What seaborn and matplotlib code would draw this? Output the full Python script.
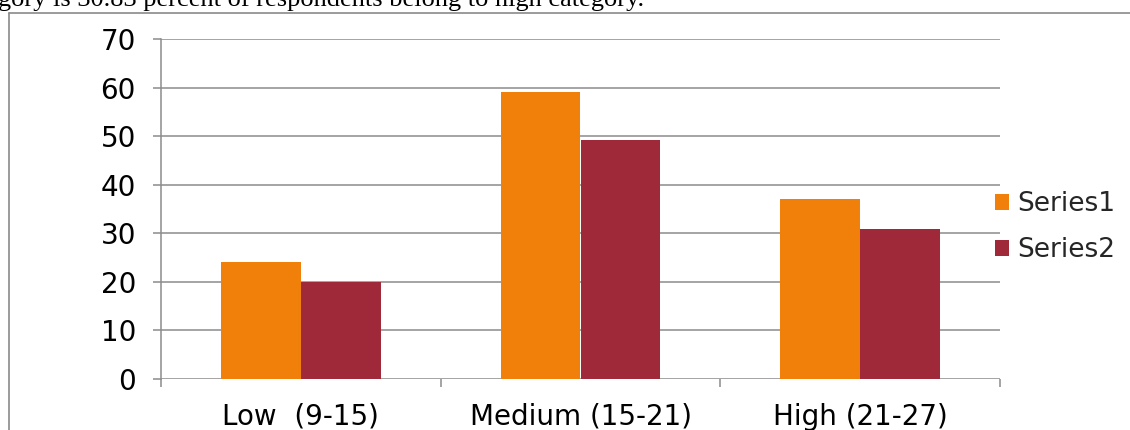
import matplotlib
matplotlib.use("Agg")
import matplotlib.pyplot as plt
from matplotlib.lines import Line2D
from matplotlib.patches import Patch
import seaborn as sns
import pandas as pd

# Respondent counts and their percentage share per score band
categories = ["Low  (9-15)", "Medium (15-21)", "High (21-27)"]
series1 = [24, 59, 37]
series2 = [20, 49.17, 30.83]
series_names = ["Series1", "Series2"]
yticks = [0, 10, 20, 30, 40, 50, 60, 70]
caption = "gory is 30.83 percent of respondents belong to high category."

colors = ["#F0800A", "#A02939"]
grid_color = "#8C8C8C"

df = pd.DataFrame({
    "category": categories * 2,
    "value": series1 + series2,
    "series": [series_names[0]] * 3 + [series_names[1]] * 3,
})

sns.set_theme(style="white")
plt.rcParams["font.family"] = ["DejaVu Sans"]

W, H, DPI = 1130, 430, 100
fig = plt.figure(figsize=(W / DPI, H / DPI), dpi=DPI)
ax = fig.add_axes([161 / W, 1 - 379 / H, (1000 - 161) / W, (379 - 39) / H])

sns.barplot(data=df, x="category", y="value", hue="series", order=categories,
            hue_order=series_names, palette=colors, width=4 / 7, saturation=1,
            linewidth=0, ax=ax, legend=False)

ax.set_xlim(-0.5, len(categories) - 0.5)
ax.set_ylim(0, 70)
ax.set_yticks(yticks)
ax.set_yticklabels([str(t) for t in yticks])
ax.set_xlabel("")
ax.set_ylabel("")

# horizontal gridlines behind the bars
ax.set_axisbelow(True)
ax.yaxis.grid(True, color=grid_color, linewidth=1.1)
ax.xaxis.grid(False)

for side in ["top", "right", "bottom"]:
    ax.spines[side].set_visible(False)
ax.spines["left"].set_color(grid_color)
ax.spines["left"].set_linewidth(1.1)
ax.spines["left"].set_bounds(0, 70)

ax.tick_params(axis="y", which="major", direction="out", length=6, width=1.1,
               color=grid_color, labelsize=20, labelcolor="black", pad=12, left=True)
ax.tick_params(axis="x", which="major", length=0, labelsize=20,
               labelcolor="black", pad=17)
# category boundary ticks below the baseline
ax.set_xticks([i - 0.5 for i in range(len(categories) + 1)], minor=True)
ax.tick_params(axis="x", which="minor", direction="out", length=6, width=1.1,
               color=grid_color, bottom=True)

# legend at right
handles = [Patch(facecolor=c, edgecolor="none") for c in colors]
fig.legend(handles, series_names, loc="center left",
           bbox_to_anchor=(984 / W, 1 - 227 / H), frameon=False,
           fontsize=19, handlelength=0.55, handleheight=0.55,
           handletextpad=0.3, labelspacing=0.75, borderaxespad=0)

# outer frame (left and top edges)
fig.add_artist(Line2D([8.5 / W, 8.5 / W], [0, 1 - 12.5 / H],
                      transform=fig.transFigure, color="#8A8A8A", linewidth=1.2))
fig.add_artist(Line2D([8.5 / W, 1], [1 - 12.5 / H, 1 - 12.5 / H],
                      transform=fig.transFigure, color="#8A8A8A", linewidth=1.2))

# running text line above the chart
fig.text(-0.002, 1 - 6 / H, caption, family="Liberation Serif", fontsize=19,
         va="baseline", ha="left", color="black")

fig.savefig("out.png", dpi=DPI, facecolor="white")
